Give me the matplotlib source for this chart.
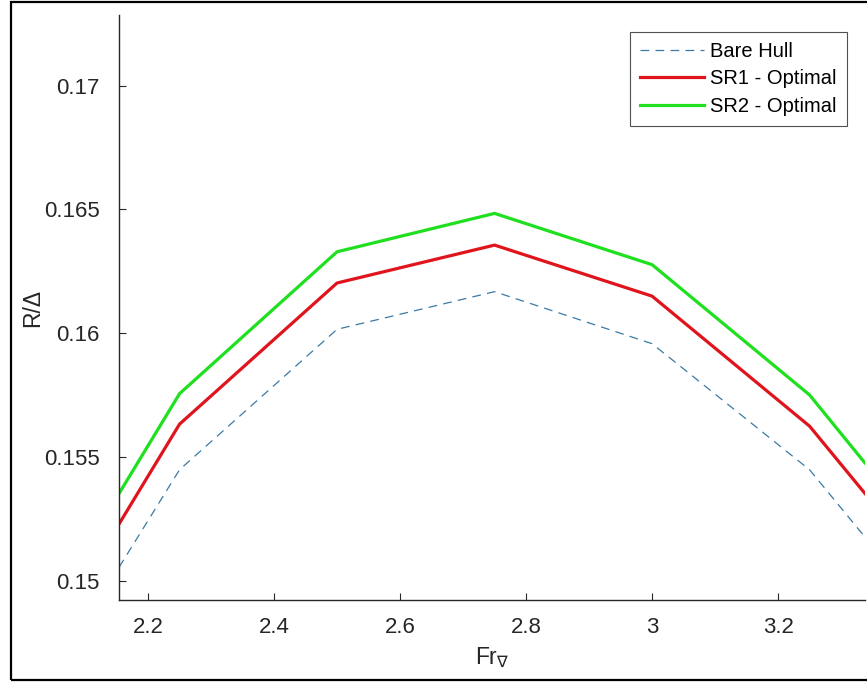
import matplotlib
matplotlib.use("Agg")
import matplotlib.pyplot as plt
from matplotlib.patches import Rectangle

# Froude number (volumetric) and resistance ratio
fr = [2.154, 2.25, 2.5, 2.75, 3.0, 3.25, 3.338]
bare_hull = [0.15055, 0.15449, 0.16016, 0.16168, 0.15958, 0.15449, 0.15177]
sr1_opt = [0.15230, 0.15633, 0.16203, 0.16356, 0.16150, 0.15625, 0.15353]
sr2_opt = [0.15353, 0.15756, 0.16329, 0.16484, 0.16277, 0.15751, 0.15476]

xticks = [2.2, 2.4, 2.6, 2.8, 3.0, 3.2]
xticklabels = ["2.2", "2.4", "2.6", "2.8", "3", "3.2"]
yticks = [0.15, 0.155, 0.16, 0.165, 0.17]
yticklabels = ["0.15", "0.155", "0.16", "0.165", "0.17"]

plt.rcParams['font.family'] = ['Liberation Sans', 'DejaVu Sans']
plt.rcParams['mathtext.fontset'] = 'dejavusans'

fig = plt.figure(figsize=(8.67, 6.82), dpi=100)
ax = fig.add_axes([0.1373, 0.1202, 0.8604, 0.8578])

ax.plot(fr, bare_hull, color='#3a7aa6', lw=0.9, dashes=(7, 5), label='Bare Hull')
ax.plot(fr, sr1_opt, color='#e0141c', lw=2.3, label='SR1 - Optimal')
ax.plot(fr, sr2_opt, color='#1fe01f', lw=2.3, label='SR2 - Optimal')

ax.set_xlim(2.154, 3.338)
ax.set_ylim(0.14923, 0.17285)
ax.set_xticks(xticks)
ax.set_xticklabels(xticklabels)
ax.set_yticks(yticks)
ax.set_yticklabels(yticklabels)

for s in ['top', 'right']:
    ax.spines[s].set_visible(False)
for s in ['left', 'bottom']:
    ax.spines[s].set_color('#262626')
    ax.spines[s].set_linewidth(1.0)
ax.tick_params(direction='in', length=5, width=0.8, colors='#262626',
               labelsize=16, pad=14)
ax.tick_params(axis='x', pad=12)

ax.set_ylabel('R/\u0394', fontsize=16.5, color='#262626', labelpad=0)
ax.set_xlabel('Fr$_{\\nabla}$', fontsize=16.5, color='#262626', labelpad=6)

leg = ax.legend(loc='upper right', bbox_to_anchor=(0.9759, 0.971), fontsize=14.5,
                frameon=True, fancybox=False, handlelength=3.2, handletextpad=0.3,
                labelspacing=0.42, borderpad=0.5, borderaxespad=0)
leg.get_frame().set_edgecolor('#262626')
leg.get_frame().set_linewidth(0.8)

# outer frame around the whole picture
fig.patches.append(Rectangle((0.013, 0.003), 0.99, 0.994, transform=fig.transFigure,
                             fill=False, edgecolor='black', lw=1.6))

fig.savefig('out.png', dpi=100)
